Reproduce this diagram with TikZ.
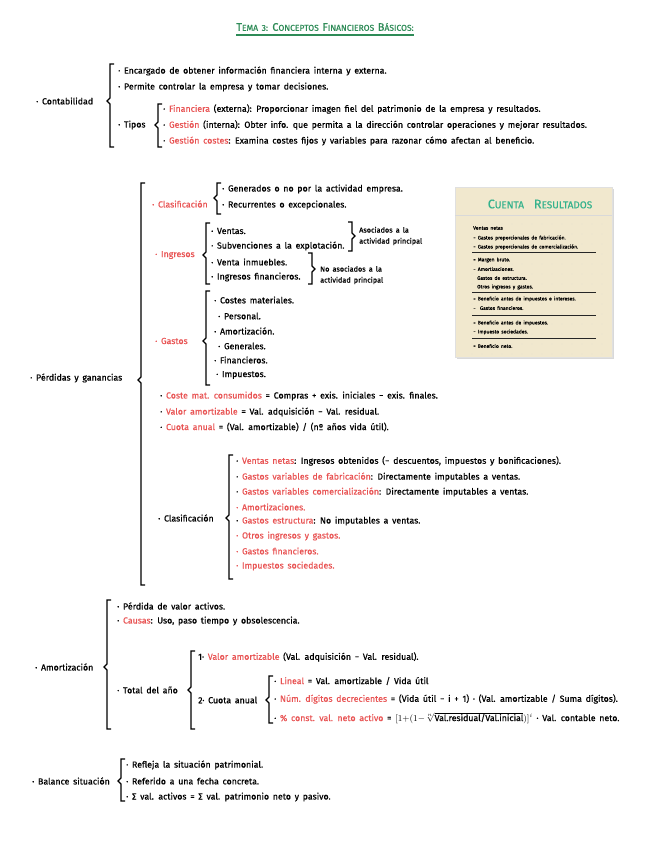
\documentclass[tikz,border=0pt]{standalone}
\usepackage{fontspec}
\setmainfont{Fira Sans}[WordSpace=1.6,UprightFeatures={FakeBold=0.6}]
\usetikzlibrary{positioning,calc,shadows}
\definecolor{NoteRed}{RGB}{232,84,84}
\definecolor{NoteGreen}{RGB}{46,139,87}
\definecolor{CardTeal}{RGB}{52,178,140}
\definecolor{CardFill}{RGB}{241,232,206}
\tikzset{
  txt/.style={anchor=west,inner sep=0pt,font=\fontsize{8.8}{9.5}\selectfont},
  hl/.style={txt,text=NoteRed},
  brk/.style={draw=black,line width=1.2pt,line join=miter},
  card/.style={draw=black!12,fill=CardFill,minimum width=157pt,minimum height=170pt,
    inner sep=0pt,drop shadow={opacity=0.3,shadow xshift=2pt,shadow yshift=-2pt}},
  cardtxt/.style={anchor=west,inner sep=0pt,font=\fontsize{5}{5}\selectfont},
  cardrule/.style={draw=black!85,line width=0.8pt},
}
\newcommand{\notered}[1]{\textcolor{NoteRed}{#1}}
\newcommand{\capfirst}[1]{{\fontsize{11}{11}\selectfont #1}}
% left brace: x, top, bottom, middle
\newcommand{\leftbrak}[4]{\draw[brk] (#1+4,#2) -- (#1,#2) -- (#1,#4-3) -- (#1-3,#4) -- (#1,#4+3) -- (#1,#3) -- (#1+4,#3);}
% right brace: x, top, bottom, middle
\newcommand{\rightbrak}[4]{\draw[brk] (#1-4,#2) -- (#1,#2) -- (#1,#4-3) -- (#1+3,#4) -- (#1,#4+3) -- (#1,#3) -- (#1-4,#3);}

\begin{document}
\begin{tikzpicture}[x=1pt,y=-1pt]
  \useasboundingbox (0,0) rectangle (646,848);

  % title
  \node[inner sep=0pt,text=NoteGreen,font=\fontsize{8.5}{9}\selectfont] (title) at (325,27)
    {\capfirst{T}EMA 3: \capfirst{C}ONCEPTOS \capfirst{F}INANCIEROS \capfirst{B}ÁSICOS:};
  \draw[NoteGreen,line width=1.3pt] ($(title.south west)+(0,4)$) -- ($(title.south east)+(0,4)$);

  % contabilidad
  \node[txt] (conta) at (36,101) {· Contabilidad};
  \leftbrak{110}{64}{147}{101}
  \node[txt] (enc) at (118,71) {· Encargado de obtener información financiera interna y externa.};
  \node[txt] (perm) at (118,87) {· Permite controlar la empresa y tomar decisiones.};
  \node[txt] (tipos) at (118,125) {· Tipos};
  \leftbrak{158}{104}{147}{125}
  \node[txt] (finan) at (163,109) {· \notered{Financiera} (externa): Proporcionar imagen fiel del patrimonio de la empresa y resultados.};
  \node[txt] (gestion) at (163,125) {· \notered{Gestión} (interna): Obter info. que permita a la dirección controlar operaciones y mejorar resultados.};
  \node[txt] (gcostes) at (163,141) {· \notered{Gestión costes}: Examina costes fijos y variables para razonar cómo afectan al beneficio.};

  % perdidas y ganancias
  \node[txt] (pyg) at (30,378) {· Pérdidas y ganancias};
  \leftbrak{141}{183}{585}{380}
  \node[hl] (clas) at (152,204) {· Clasificación};
  \leftbrak{217}{183}{214}{198}
  \node[txt] (genera) at (222,189) {· Generados o no por la actividad empresa.};
  \node[txt] (recur) at (222,205) {· Recurrentes o excepcionales.};

  \node[hl] (ingr) at (155,255) {· Ingresos};
  \leftbrak{206}{223}{284}{255}
  \node[txt] (ventas) at (211,231) {· Ventas.};
  \node[txt] (subv) at (211,246) {· Subvenciones a la explotación.};
  \node[txt] (inmu) at (211,262) {· Venta inmuebles.};
  \node[txt] (ifin) at (211,277) {· Ingresos financieros.};
  \rightbrak{352}{222}{251}{236}
  \node[txt,align=left,font=\fontsize{7.3}{11}\selectfont] (asoc) at (359,236) {Asociados a la\\actividad principal};
  \rightbrak{312}{253}{284}{269}
  \node[txt,align=left,font=\fontsize{7.3}{11}\selectfont] (noasoc) at (320,275) {No asociados a la\\actividad principal};

  \node[hl] (gastos) at (155,341) {· Gastos};
  \leftbrak{206}{291}{385}{341}
  \node[txt] (cmat) at (214,300) {· Costes materiales.};
  \node[txt] (pers) at (218,316) {· Personal.};
  \node[txt] (amor) at (214,331) {· Amortización.};
  \node[txt] (gener) at (218,346) {· Generales.};
  \node[txt] (gfin) at (214,360) {· Financieros.};
  \node[txt] (impu) at (216,375) {· Impuestos.};

  \node[txt] (coste) at (160,396) {· \notered{Coste mat. consumidos} = Compras + exis. iniciales − exis. finales.};
  \node[txt] (valor) at (160,412) {· \notered{Valor amortizable} = Val. adquisición − Val. residual.};
  \node[txt] (cuota) at (160,427) {· \notered{Cuota anual} = (Val. amortizable) / (nº años vida útil).};

  \node[txt] (clas2) at (158,518) {· Clasificación};
  \leftbrak{229}{455}{579}{518}
  \node[txt] (vnet) at (236,461) {· \notered{Ventas netas}: Ingresos obtenidos (− descuentos, impuestos y bonificaciones).};
  \node[txt] (gvfab) at (236,477) {· \notered{Gastos variables de fabricación}: Directamente imputables a ventas.};
  \node[txt] (gvcom) at (236,492) {· \notered{Gastos variables comercialización}: Directamente imputables a ventas.};
  \node[hl] (amorts) at (236,507) {· Amortizaciones.};
  \node[txt] (gestr) at (236,521) {· \notered{Gastos estructura}: No imputables a ventas.};
  \node[hl] (otros) at (236,536) {· Otros ingresos y gastos.};
  \node[hl] (gfins) at (236,551) {· Gastos financieros.};
  \node[hl] (isoc) at (236,566) {· Impuestos sociedades.};

  % cuenta de resultados
  \node[card] (cuenta) at (533.5,272) {};
  \foreach \gx in {472,482,...,602}
    \foreach \gy in {224,234,...,354}
      \fill[black!18] (\gx,\gy) circle (0.45);
  \node[inner sep=0pt,text=CardTeal,font=\fontsize{10}{10}\selectfont] (ctitle) at (540,204)
    {{\fontsize{12.5}{12}\selectfont C}UENTA\quad{\fontsize{12.5}{12}\selectfont R}ESULTADOS};
  \draw[black!15,line width=0.8pt] (cuenta.west |- 0,215) -- (cuenta.east |- 0,215);
  \node[cardtxt] (c1) at (473,228) {Ventas netas};
  \node[cardtxt] (c2) at (473,238) {− Gastos proporcionales de fabricación.};
  \node[cardtxt] (c3) at (473,247) {− Gastos proporcionales de comercialización.};
  \node[cardtxt] (c4) at (473,260) {= Margen bruto.};
  \node[cardtxt] (c5) at (473,269) {− Amortizaciones.};
  \node[cardtxt] (c6) at (477,278) {Gastos de estructura.};
  \node[cardtxt] (c7) at (477,287) {Otros ingresos y gastos.};
  \node[cardtxt] (c8) at (473,299) {= Beneficio antes de impuestos e intereses.};
  \node[cardtxt] (c9) at (473,308) {− \ Gastos financieros.};
  \node[cardtxt] (c10) at (473,323) {= Beneficio antes de impuestos.};
  \node[cardtxt] (c11) at (473,332) {− Impuesto sociedades.};
  \node[cardtxt] (c12) at (473,346) {= Beneficio neto.};
  \foreach \ry in {252,292,315,338}
    \draw[cardrule] (472,\ry) -- (596,\ry);

  % amortizacion
  \node[txt] (amortiz) at (35,667) {· Amortización};
  \leftbrak{107}{600}{729}{667}
  \node[txt] (perdida) at (117,606) {· Pérdida de valor activos.};
  \node[txt] (causas) at (117,621) {· \notered{Causas}: Uso, paso tiempo y obsolescencia.};
  \node[txt] (total) at (117,690) {· Total del año};
  \leftbrak{191}{651}{729}{690}
  \node[txt] (vamort) at (198,657) {1· \notered{Valor amortizable} (Val. adquisición − Val. residual).};
  \node[txt] (canual) at (198,700) {2· Cuota anual};
  \leftbrak{269}{676}{723}{700}
  \node[txt] (lineal) at (274,681) {· \notered{Lineal} = Val. amortizable / Vida útil};
  \node[txt] (digitos) at (274,699) {· \notered{Núm. dígitos decrecientes} = (Vida útil − i + 1) · (Val. amortizable / Suma dígitos).};
  \node[txt] (porc) at (274,718) {· \notered{\% const. val. neto activo} = $[1{+}(1{-}\sqrt[n]{\mbox{Val.residual/Val.inicial}})]^{i}$ · Val. contable neto.};

  % balance
  \node[txt] (balance) at (32,781) {· Balance situación};
  \leftbrak{121}{759}{801}{781}
  \node[txt] (refleja) at (126,765) {· Refleja la situación patrimonial.};
  \node[txt] (referido) at (126,781) {· Referido a una fecha concreta.};
  \node[txt] (suma) at (126,797) {· Σ val. activos = Σ val. patrimonio neto y pasivo.};
\end{tikzpicture}
\end{document}
